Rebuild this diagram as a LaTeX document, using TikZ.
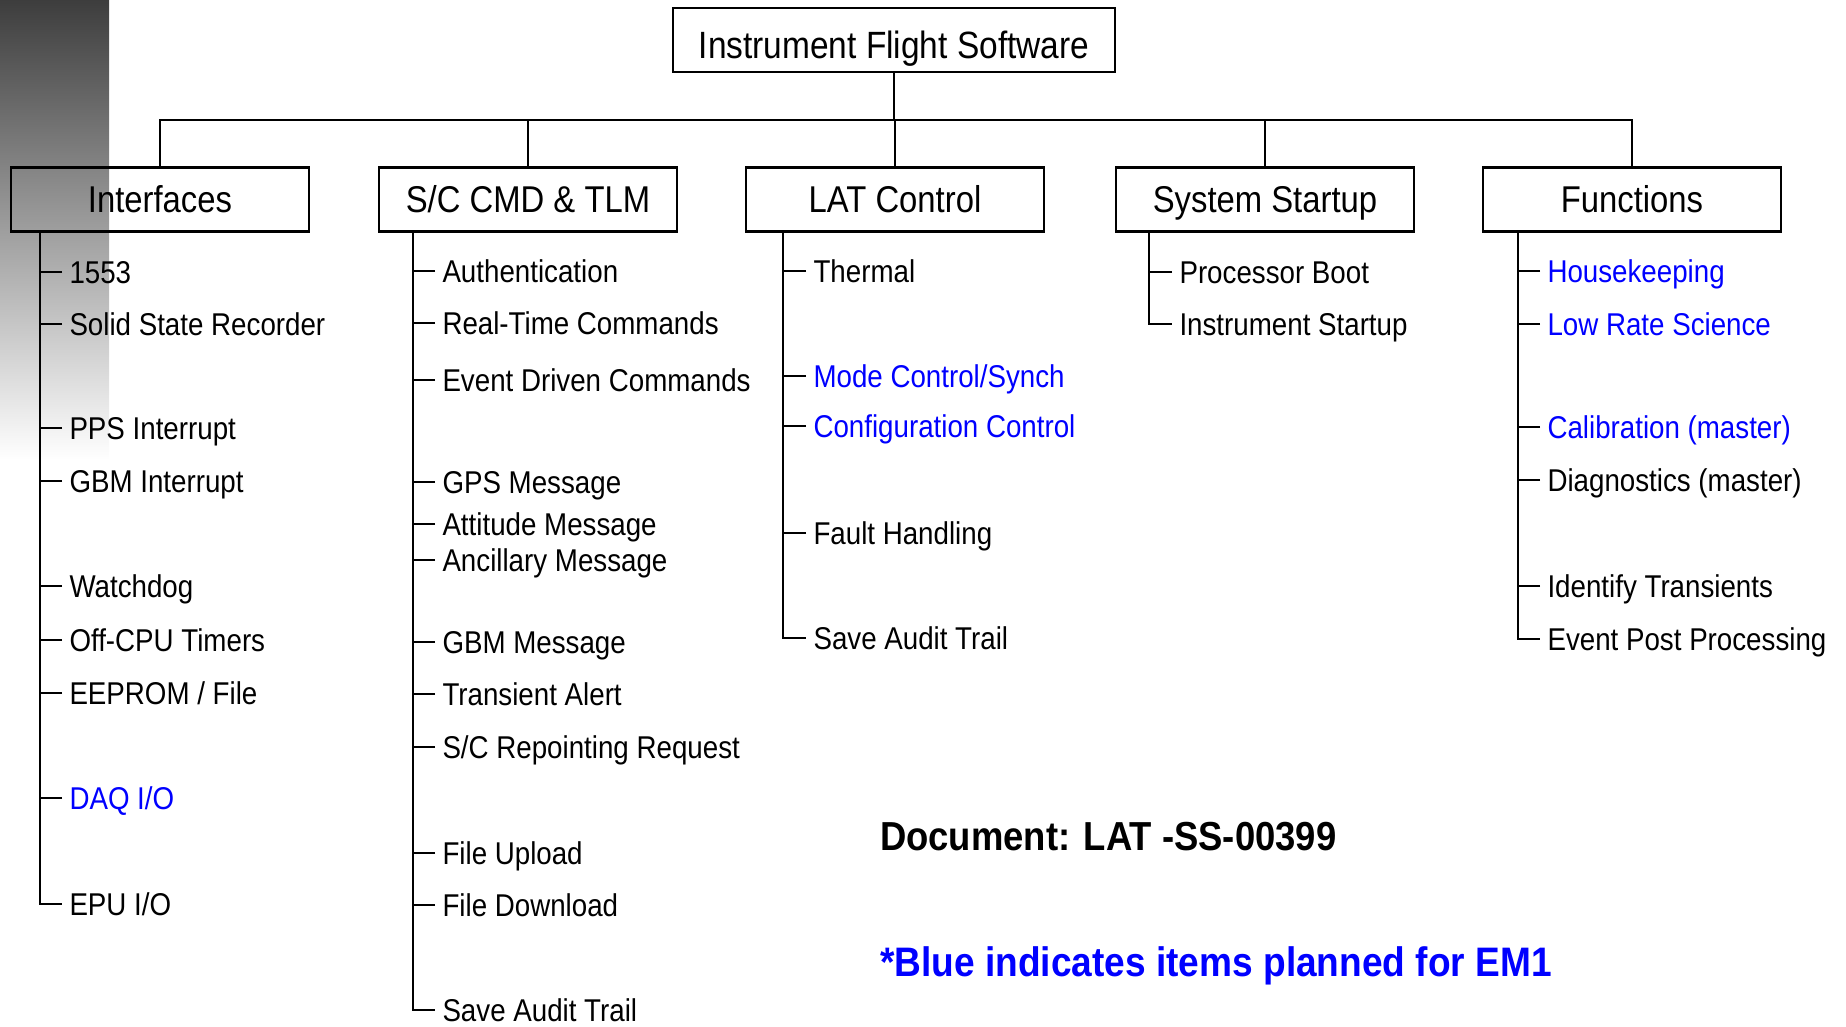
\documentclass[tikz,border=0pt]{standalone}
\usepackage{fontspec}
\setmainfont{Liberation Sans}[FakeStretch=0.88]
\newfontfamily\docfont{Liberation Sans}[FakeStretch=0.9]
\definecolor{emblue}{RGB}{0,0,255}
\begin{document}
\begin{tikzpicture}[x=1pt,y=-1pt,
  every path/.style={line width=2.2pt},
  topbox/.style={draw, line width=2.2pt, minimum width=442pt, minimum height=64pt, inner sep=0pt,
    font=\fontsize{38}{42}\selectfont, text height=36pt, text depth=0pt},
  catbox/.style={draw, line width=2.2pt, minimum width=298pt, minimum height=64pt, inner sep=0pt,
    font=\fontsize{37.3}{41}\selectfont, text height=26.7pt, text depth=0pt},
  itm/.style={anchor=west, inner sep=0pt, outer xsep=7.5pt, outer ysep=0pt,
    font=\fontsize{31.5}{34}\selectfont, text height=22.5pt, text depth=0pt},
  em1/.style={text=emblue},
  note/.style={anchor=base west, inner sep=0pt, font=\docfont\bfseries}
]
\useasboundingbox (0,0) rectangle (1846,1026);
% grey strip in the top-left corner
\shade[top color=black!76, bottom color=white, draw=none] (0,0) rectangle (109,460);

% boxes
\node[topbox] (top) at (894,40) {Instrument Flight Software};
\node[catbox] (int) at (160,199.5) {Interfaces};
\node[catbox] (cmd) at (528,199.5) {S/C CMD \& TLM};
\node[catbox] (lat) at (895,199.5) {LAT Control};
\node[catbox] (sys) at (1265,199.5) {System Startup};
\node[catbox] (fun) at (1632,199.5) {Functions};

% top-level connectors
\coordinate (bar) at (0,120);
\draw (top.south) -- (top.south |- bar);
\draw (int.north) -- (int.north |- bar) -| (fun.north);
\draw (cmd.north) -- (cmd.north |- bar);
\draw (lat.north) -- (lat.north |- bar);
\draw (sys.north) -- (sys.north |- bar);

% spine tops
\coordinate (intS) at ([xshift=30pt]int.south west);
\coordinate (cmdS) at ([xshift=35pt]cmd.south west);
\coordinate (latS) at ([xshift=38pt]lat.south west);
\coordinate (sysS) at ([xshift=34pt]sys.south west);
\coordinate (funS) at ([xshift=36pt]fun.south west);

% Interfaces items
\node[itm] (a1) at (62,272) {1553};
\node[itm] (a2) at (62,324) {Solid State Recorder};
\node[itm] (a3) at (62,428) {PPS Interrupt};
\node[itm] (a4) at (62,481) {GBM Interrupt};
\node[itm] (a5) at (62,586) {Watchdog};
\node[itm] (a6) at (62,640) {Off-CPU Timers};
\node[itm] (a7) at (62,693) {EEPROM / File};
\node[itm,em1] (a8) at (62,798) {DAQ I/O};
\node[itm] (a9) at (62,904) {EPU I/O};
\draw (intS) |- (a9.west);
\foreach \n in {a1,a2,a3,a4,a5,a6,a7,a8} \draw (\n.west) -- (\n.west -| intS);

% S/C CMD & TLM items
\node[itm] (b1) at (435,271) {Authentication};
\node[itm] (b2) at (435,323) {Real-Time Commands};
\node[itm] (b3) at (435,380) {Event Driven Commands};
\node[itm] (b4) at (435,482) {GPS Message};
\node[itm] (b5) at (435,524) {Attitude Message};
\node[itm] (b6) at (435,560) {Ancillary Message};
\node[itm] (b7) at (435,642) {GBM Message};
\node[itm] (b8) at (435,694) {Transient Alert};
\node[itm] (b9) at (435,747) {S/C Repointing Request};
\node[itm] (b10) at (435,853) {File Upload};
\node[itm] (b11) at (435,905) {File Download};
\node[itm] (b12) at (435,1010) {Save Audit Trail};
\draw (cmdS) |- (b12.west);
\foreach \n in {b1,b2,b3,b4,b5,b6,b7,b8,b9,b10,b11} \draw (\n.west) -- (\n.west -| cmdS);

% LAT Control items
\node[itm] (c1) at (806,271) {Thermal};
\node[itm,em1] (c2) at (806,376) {Mode Control/Synch};
\node[itm,em1] (c3) at (806,426) {Configuration Control};
\node[itm] (c4) at (806,533) {Fault Handling};
\node[itm] (c5) at (806,638) {Save Audit Trail};
\draw (latS) |- (c5.west);
\foreach \n in {c1,c2,c3,c4} \draw (\n.west) -- (\n.west -| latS);

% System Startup items
\node[itm] (d1) at (1172,272) {Processor Boot};
\node[itm] (d2) at (1172,324) {Instrument Startup};
\draw (sysS) |- (d2.west);
\draw (d1.west) -- (d1.west -| sysS);

% Functions items
\node[itm,em1] (e1) at (1540,271) {Housekeeping};
\node[itm,em1] (e2) at (1540,324) {Low Rate Science};
\node[itm,em1] (e3) at (1540,427) {Calibration (master)};
\node[itm] (e4) at (1540,480) {Diagnostics (master)};
\node[itm] (e5) at (1540,586) {Identify Transients};
\node[itm] (e6) at (1540,639) {Event Post Processing};
\draw (funS) |- (e6.west);
\foreach \n in {e1,e2,e3,e4,e5} \draw (\n.west) -- (\n.west -| funS);

% notes
\node[note, font=\docfont\bfseries\fontsize{40.5}{44}\selectfont] (doc) at (879,850) {Document: LAT -SS-00399};
\node[note, font=\docfont\bfseries\fontsize{41.2}{45}\selectfont, text=emblue] (blue) at (879,976) {*Blue indicates items planned for EM1};
\end{tikzpicture}
\end{document}
